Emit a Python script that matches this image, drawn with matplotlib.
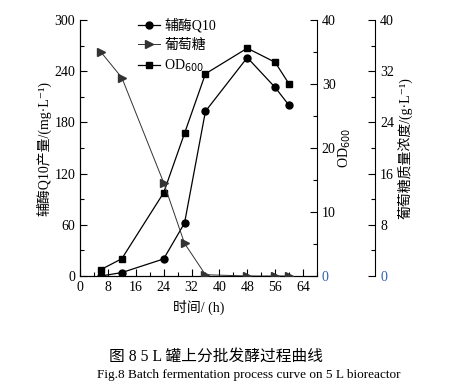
import matplotlib.pyplot as plt
from matplotlib.ticker import MultipleLocator

plt.rcParams['font.family'] = ['Liberation Serif', 'Noto Sans CJK SC', 'DejaVu Sans']
plt.rcParams['axes.unicode_minus'] = False

# Data
time_h = [6, 12, 24, 30, 36, 48, 56, 60]
q10 = [0, 4, 20, 62, 193, 256, 221, 200]          # mg/L, left axis
glucose = [35, 31, 14.6, 5.1, 0.2, 0, 0, 0]       # g/L, third axis
od600 = [1.0, 2.7, 13, 22.3, 31.6, 35.6, 33.4, 30]  # second axis

x_ticks = [0, 8, 16, 24, 32, 40, 48, 56, 64]

fig = plt.figure(figsize=(4.56, 3.89), dpi=100)
ax = fig.add_axes([0.1754, 0.2905, 0.5197, 0.658])
ax_od = ax.twinx()
ax_gl = ax.twinx()
ax_gl.spines['right'].set_position(('outward', 42))

l1, = ax.plot(time_h, q10, color='black', marker='o', markersize=5, lw=0.9, label='辅酶Q10')
l2, = ax_gl.plot(time_h, glucose, color='#333333', marker='>', markersize=6, lw=0.7, label='葡萄糖')
l3, = ax_od.plot(time_h, od600, color='black', marker='s', markersize=4.5, lw=0.9, label='OD$_{600}$')

ax.set_xlim(0, 68)
ax.set_ylim(0, 300)
ax_od.set_ylim(0, 40)
ax_gl.set_ylim(0, 40)

ax.set_xticks(x_ticks)
ax.xaxis.set_minor_locator(MultipleLocator(4))
ax.yaxis.set_major_locator(MultipleLocator(60))
ax.yaxis.set_minor_locator(MultipleLocator(30))
ax_od.yaxis.set_major_locator(MultipleLocator(10))
ax_od.yaxis.set_minor_locator(MultipleLocator(5))
ax_gl.yaxis.set_major_locator(MultipleLocator(8))
ax_gl.yaxis.set_minor_locator(MultipleLocator(4))

for a in (ax, ax_od, ax_gl):
    a.tick_params(which='major', direction='in', length=5, width=0.8, labelsize=10)
    a.tick_params(which='minor', direction='in', length=3, width=0.8)
    for s in a.spines.values():
        s.set_linewidth(0.8)
ax.spines['top'].set_visible(False)
ax_od.spines['top'].set_visible(False)
ax_gl.spines['top'].set_visible(False)
ax_gl.spines['left'].set_visible(False)
ax_gl.spines['bottom'].set_visible(False)
ax.spines['right'].set_visible(False)

# blue zero labels on the right axes
fig.canvas.draw()
for a in (ax_od, ax_gl):
    for lab in a.get_yticklabels():
        if lab.get_text() == '0':
            lab.set_color('#2f5fb0')

ax.set_xlabel('时间/ (h)', fontsize=10, labelpad=4)
ax.set_ylabel('辅酶Q10产量/(mg·L⁻¹)', fontsize=10, labelpad=2)
ax_od.set_ylabel('OD$_{600}$', fontsize=10, labelpad=1)
ax_gl.set_ylabel('葡萄糖质量浓度/(g·L⁻¹)', fontsize=10, labelpad=2)

ax.legend(handles=[l1, l2, l3], loc='upper left', bbox_to_anchor=(0.22, 1.03),
          frameon=False, fontsize=10, handlelength=1.6, handletextpad=0.3,
          labelspacing=0.45, borderaxespad=0)

fig.text(0.474, 0.082, '图 8 5 L 罐上分批发酵过程曲线', ha='center', va='center', fontsize=11.3)
fig.text(0.546, 0.036, 'Fig.8 Batch fermentation process curve on 5 L bioreactor',
         ha='center', va='center', fontsize=9.5)

fig.savefig('out.png', dpi=100)
